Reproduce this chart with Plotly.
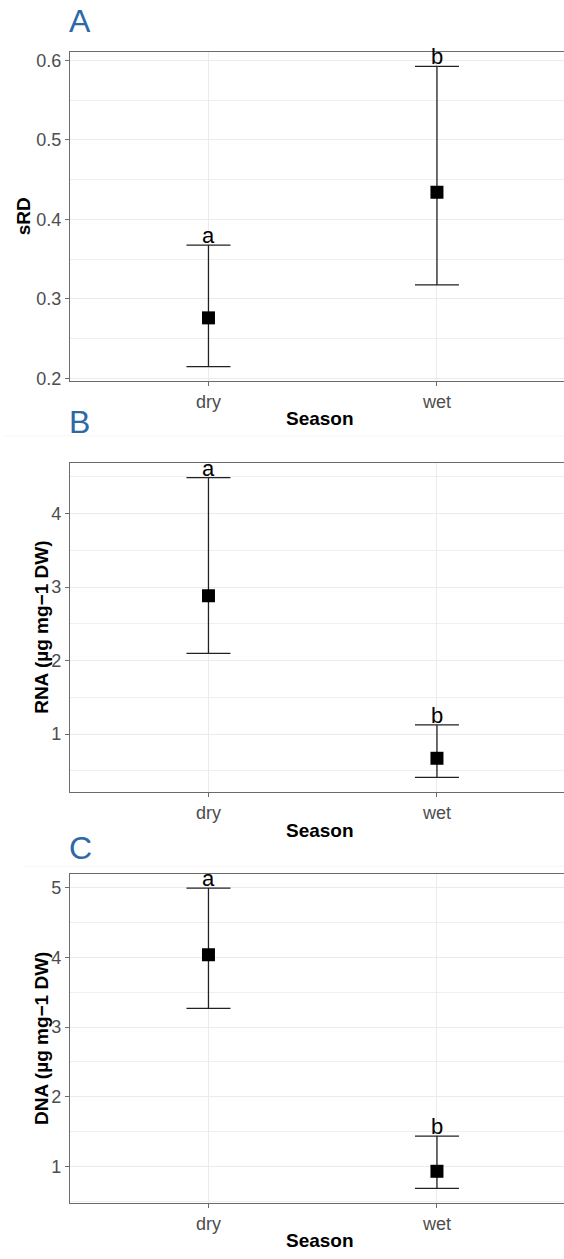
import plotly.graph_objects as go

# Season summaries: mean with lower/upper interval bounds
seasons = ["dry", "wet"]

srd_mean = [0.276, 0.434]
srd_low = [0.2146, 0.3175]
srd_high = [0.3675, 0.5925]

rna_mean = [2.882, 0.67]
rna_low = [2.099, 0.41]
rna_high = [4.49, 1.126]

dna_mean = [4.034, 0.933]
dna_low = [3.266, 0.687]
dna_high = [4.99, 1.437]

letters = ["a", "b"]

W, H = 564, 1259
FONT = "Liberation Sans, Arial, sans-serif"
GRID = "#EBEBEB"
MINOR = "#EFEFEF"
BORDER = "#6B6B6B"
TICKCOL = "#4D4D4D"
BLUE = "#2D68A8"


def py(p):
    return 1 - p / H


def px(p):
    return p / W


panels = [
    dict(mean=srd_mean, low=srd_low, high=srd_high, top=51, bot=382.7,
         rng=[0.1966, 0.611], tick0=0.2, dtick=0.1, minor=0.05,
         fmt=".1f", title="sRD", tx=23, tag="A", tag_y=20, season_y=421),
    dict(mean=rna_mean, low=rna_low, high=rna_high, top=465, bot=796.7,
         rng=[0.211, 4.693], tick0=1, dtick=1, minor=0.5,
         fmt="d", title="RNA (µg mg−1 DW)", tx=41.5, tag="B", tag_y=424.5, season_y=835),
    dict(mean=dna_mean, low=dna_low, high=dna_high, top=879, bot=1210.7,
         rng=[0.478, 5.196], tick0=1, dtick=1, minor=0.5,
         fmt="d", title="DNA (µg mg−1 DW)", tx=41.5, tag="C", tag_y=853.5, season_y=1248),
]

fig = go.Figure()
annotations = []
shapes = []
xpos = list(range(len(seasons)))

for i, p in enumerate(panels):
    n = "" if i == 0 else str(i + 1)
    xa, ya = "x" + n, "y" + n
    plus = [h - m for h, m in zip(p["high"], p["mean"])]
    minus = [m - l for m, l in zip(p["mean"], p["low"])]
    fig.add_trace(go.Scatter(
        x=xpos, y=p["mean"], mode="markers", xaxis=xa, yaxis=ya,
        marker=dict(symbol="square", size=13, color="black"),
        error_y=dict(type="data", symmetric=False, array=plus, arrayminus=minus,
                     color="#222222", thickness=1.3, width=22),
        showlegend=False, hoverinfo="skip",
    ))
    dom_y = [py(p["bot"]), py(p["top"])]
    fig.update_layout(**{
        ("xaxis" + n): dict(
            domain=[px(70), 1], range=[-0.606, 1.556], anchor=ya,
            tickmode="array", tickvals=xpos, ticktext=seasons,
            showgrid=True, gridcolor=GRID, gridwidth=1.1, zeroline=False,
            showline=True, linecolor=BORDER, linewidth=1.3, mirror=True,
            ticks="outside", ticklen=4, tickcolor=BORDER, tickwidth=1,
            tickfont=dict(family=FONT, size=18, color=TICKCOL),
        ),
        ("yaxis" + n): dict(
            domain=dom_y, range=p["rng"], anchor=xa,
            tick0=p["tick0"], dtick=p["dtick"], tickformat=p["fmt"],
            showgrid=True, gridcolor=GRID, gridwidth=1.1, zeroline=False,
            minor=dict(dtick=p["minor"], tick0=p["tick0"], showgrid=True,
                       gridcolor=MINOR, gridwidth=0.6, ticks=""),
            showline=True, linecolor=BORDER, linewidth=1.3, mirror=False,
            ticks="outside", ticklen=4, tickcolor=BORDER, tickwidth=1,
            tickfont=dict(family=FONT, size=18, color=TICKCOL),
        ),
    })
    # significance letters sitting on the upper caps
    for j, (xv, hv) in enumerate(zip(xpos, p["high"])):
        annotations.append(dict(
            x=xv, y=hv, xref=xa, yref=ya, text=letters[j], showarrow=False,
            xanchor="center", yanchor="bottom", yshift=-5,
            font=dict(family=FONT, size=22, color="black"),
        ))
    # axis titles
    annotations.append(dict(
        x=px(320), y=py(p["season_y"]), xref="paper", yref="paper",
        text="<b>Season</b>", showarrow=False, xanchor="center", yanchor="middle",
        font=dict(family=FONT, size=19, color="black"),
    ))
    annotations.append(dict(
        x=px(p["tx"]), y=py((p["top"] + p["bot"]) / 2), xref="paper", yref="paper",
        text="<b>" + p["title"] + "</b>", showarrow=False, textangle=-90,
        xanchor="center", yanchor="middle",
        font=dict(family=FONT, size=19, color="black"),
    ))
    # panel tag
    annotations.append(dict(
        x=px(67), y=py(p["tag_y"]), xref="paper", yref="paper",
        text=p["tag"], showarrow=False, xanchor="left", yanchor="middle",
        font=dict(family=FONT, size=32, color=BLUE),
    ))

# faint seams between the stacked panels
for y_sep, x_start in [(438, 5), (871.5, 25)]:
    shapes.append(dict(type="line", xref="paper", yref="paper",
                       x0=px(x_start), x1=1, y0=py(y_sep), y1=py(y_sep),
                       line=dict(color="#F4F4F4", width=1)))

fig.update_layout(
    width=W, height=H,
    margin=dict(l=0, r=0, t=0, b=0),
    paper_bgcolor="white", plot_bgcolor="white",
    annotations=annotations,
    shapes=shapes,
    showlegend=False,
)

fig.write_html("out.html")
